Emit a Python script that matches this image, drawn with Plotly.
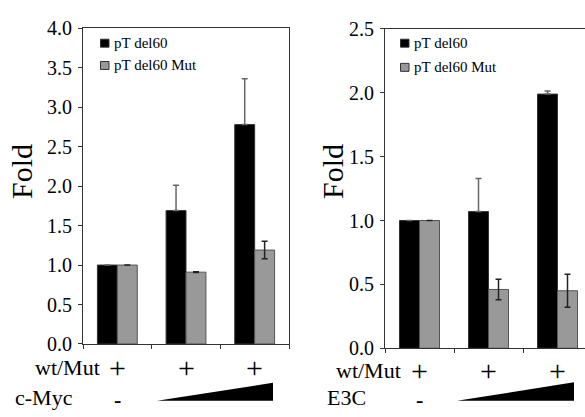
import plotly.graph_objects as go

W, H = 585, 417

# ---------------- data ----------------
groups = [0, 1, 2]
series_names = ["pT del60", "pT del60 Mut"]

left_wt = [1.00, 1.69, 2.78]
left_wt_err = [0.0, 0.32, 0.58]
left_mut = [1.00, 0.91, 1.19]
left_mut_err = [0.0, 0.005, 0.11]

right_wt = [1.00, 1.07, 1.99]
right_wt_err = [0.0, 0.26, 0.025]
right_mut = [1.00, 0.46, 0.45]
right_mut_err = [0.0, 0.08, 0.13]

row1_label = "wt/Mut"
row1_marks = ["+", "+", "+"]
left_row2_label = "c-Myc"
right_row2_label = "E3C"
row2_first = "-"

left_yticks = [0.0, 0.5, 1.0, 1.5, 2.0, 2.5, 3.0, 3.5, 4.0]
right_yticks = [0.0, 0.5, 1.0, 1.5, 2.0, 2.5]

# ---------------- style ----------------
FONT = "Liberation Serif, Times New Roman, serif"
BLACK = "#000000"
GRAY = "#999999"
EDGE = "#555555"


def px(x):
    return x / W


def py(y):
    return 1 - y / H


fig = go.Figure()

panels = [
    dict(wt=left_wt, wte=left_wt_err, mut=left_mut, mute=left_mut_err, xa="x", ya="y"),
    dict(wt=right_wt, wte=right_wt_err, mut=right_mut, mute=right_mut_err, xa="x2", ya="y2"),
]
for p in panels:
    fig.add_trace(go.Bar(
        x=groups, y=p["wt"], name=series_names[0], xaxis=p["xa"], yaxis=p["ya"],
        marker=dict(color=BLACK, line=dict(color="#333333", width=1)),
        # lower whisker is hidden inside the black bar in the original
        error_y=dict(type="data", symmetric=False, array=p["wte"], arrayminus=[0] * len(p["wte"]),
                     visible=True, color="#666666", thickness=1.5, width=3),
        showlegend=False,
    ))
    fig.add_trace(go.Bar(
        x=groups, y=p["mut"], name=series_names[1], xaxis=p["xa"], yaxis=p["ya"],
        marker=dict(color=GRAY, line=dict(color=EDGE, width=1)),
        error_y=dict(type="data", array=p["mute"], visible=True, color="#222222", thickness=1.5, width=3),
        showlegend=False,
    ))

line_common = dict(showgrid=False, zeroline=False, showline=True, linecolor="#333333",
                   linewidth=1, ticks="outside", ticklen=4, tickcolor="#333333")
tickfont = dict(family=FONT, size=20, color="black")

# panel geometry (pixels)
L_x0, L_x1, L_y0, L_y1 = 83, 289, 351.5, 18.3
R_x0, R_x1, R_y0, R_y1 = 385, 585, 356, 19
R_catw = 69.0

fig.update_layout(
    width=W, height=H, margin=dict(l=0, r=0, t=0, b=0),
    paper_bgcolor="white", plot_bgcolor="white",
    barmode="group", bargap=0.42, bargroupgap=0,
    font=dict(family=FONT, color="black"),
    xaxis=dict(domain=[px(L_x0), px(L_x1)], range=[-0.5, 2.5], anchor="y",
               tickvals=[-0.5, 0.5, 1.5, 2.5], showticklabels=False, mirror=True, **line_common),
    yaxis=dict(domain=[py(L_y0), py(L_y1)], range=[0, 4], anchor="x",
               tickvals=left_yticks, tickformat=".1f", mirror=True, ticklabelstandoff=2,
               tickfont=tickfont, **line_common),
    xaxis2=dict(domain=[px(R_x0), px(R_x1)], range=[-0.5, -0.5 + (R_x1 - R_x0) / R_catw], anchor="y2",
                tickvals=[-0.5, 0.5, 1.5], showticklabels=False, mirror=True, **line_common),
    yaxis2=dict(domain=[py(R_y0), py(R_y1)], range=[0, 2.5], anchor="x2",
                tickvals=right_yticks, tickformat=".1f", mirror=False, ticklabelstandoff=2,
                tickfont=tickfont, **line_common),
)

annotations = []
shapes = []

# y-axis titles
for xc, yc in [(21, 170), (332, 170)]:
    annotations.append(dict(text="Fold", x=px(xc), y=py(yc), xref="paper", yref="paper",
                            textangle=-90, showarrow=False, xanchor="center", yanchor="middle",
                            font=dict(family=FONT, size=30, color="black")))

# legends (manual)
for (sx, sy1, sy2) in [(100.5, 34, 57.5), (400.5, 34, 59.5)]:
    for name, col, yy in [(series_names[0], BLACK, sy1), (series_names[1], GRAY, sy2)]:
        shapes.append(dict(type="rect", xref="paper", yref="paper",
                           x0=px(sx), x1=px(sx + 8.5), y0=py(yy - 4.2), y1=py(yy + 4.2),
                           fillcolor=col, line=dict(color="#333333", width=1)))
        annotations.append(dict(text=name, x=px(sx + 11), y=py(yy), xref="paper", yref="paper",
                                showarrow=False, xanchor="left", yanchor="middle",
                                font=dict(family=FONT, size=15, color="black")))

# bottom condition rows
rows = [
    dict(xa="x", lab_x=33, row2_x=13, row1_y=376, row2_y=408, row2_label=left_row2_label,
         dash_y=410, tri=(157, 273, 411.5, 392.5)),
    dict(xa="x2", lab_x=334, row2_x=325, row1_y=380, row2_y=408, row2_label=right_row2_label,
         dash_y=410, tri=(457, 574, 411.5, 392)),
]
for r in rows:
    annotations.append(dict(text=row1_label, x=px(r["lab_x"]), y=py(r["row1_y"]), xref="paper", yref="paper",
                            showarrow=False, xanchor="left", yanchor="middle",
                            font=dict(family=FONT, size=22, color="black")))
    for g, m in zip(groups, row1_marks):
        annotations.append(dict(text=m, x=g, y=py(r["row1_y"]), xref=r["xa"], yref="paper",
                                showarrow=False, xanchor="center", yanchor="middle",
                                font=dict(family=FONT, size=30, color="black")))
    annotations.append(dict(text=r["row2_label"], x=px(r["row2_x"]),
                            y=py(r["row2_y"]), xref="paper", yref="paper",
                            showarrow=False, xanchor="left", yanchor="middle",
                            font=dict(family=FONT, size=22, color="black")))
    annotations.append(dict(text="<b>" + row2_first + "</b>", x=groups[0], y=py(r["dash_y"]), xref=r["xa"], yref="paper",
                            showarrow=False, xanchor="center", yanchor="middle",
                            font=dict(family=FONT, size=22, color="black")))
    x0, x1, yb, yt = r["tri"]
    shapes.append(dict(type="path", xref="paper", yref="paper",
                       path=f"M {px(x0)} {py(yb)} L {px(x1)} {py(yb)} L {px(x1)} {py(yt)} Z",
                       fillcolor="black", line=dict(color="black", width=0)))

fig.update_layout(annotations=annotations, shapes=shapes)

fig.write_html("out.html")
